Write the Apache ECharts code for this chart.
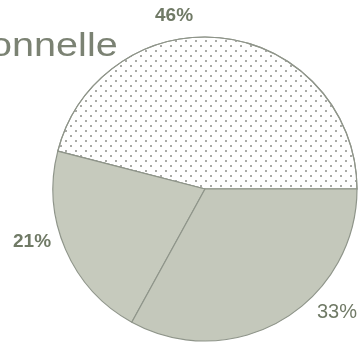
<!DOCTYPE html>
<html lang="fr">
	<head>
		<meta charset="UTF-8">
		<title>Répartition</title>
		<style>
			html, body { margin: 0; padding: 0; background: #fff; }
		</style>
	</head>
	<body>
		<div id="main" style="width: 358px;height:342px;"></div>

		<script type="text/javascript" src="https://cdn.jsdelivr.net/npm/echarts@6/dist/echarts.min.js"></script>
		<script type="text/javascript">
			// données
			var valeurs = [46, 21, 33];
			var etiquettes = ['46%', '21%', '33%'];
			var titre = 'onnelle';

			var couleurs = ['#ffffff', '#c6cabd', '#c4c8bb'];
			// position des étiquettes (x, y en pixels)
			var posEtiquettes = [[155, 6], [13, 232], [317, 302]];
			var styleEtiquettes = [
				{fontWeight: 'bold', fontSize: 19},
				{fontWeight: 'bold', fontSize: 19},
				{fontWeight: 'normal', fontSize: 20}
			];

			var myChart = echarts.init(document.getElementById('main'));

			var data = valeurs.map(function (v, i) {
				var item = {
					value: v,
					name: etiquettes[i],
					itemStyle: {color: couleurs[i]},
					label: styleEtiquettes[i]
				};
				if (i === 0) {
					//motif pointillé
					item.itemStyle.decal = {
						symbol: 'rect',
						symbolSize: 1,
						color: '#a9aaa6',
						dashArrayX: [[2, 8], [0, 5, 2, 3]],
						dashArrayY: [2, 3],
						rotation: 0
					};
				}
				return item;
			});

			var option = {
				backgroundColor: '#ffffff',
				animation: false,
				graphic: [{
					type: 'text',
					left: -10,
					top: 30,
					scaleX: 1.2,
					style: {
						text: titre,
						font: '33px "Liberation Sans", Arial, sans-serif',
						fill: '#7b8273'
					}
				}],
				series: [{
					type: 'pie',
					center: [205, 189],
					radius: 152,
					startAngle: 0,
					clockwise: false,
					silent: true,
					avoidLabelOverlap: false,
					itemStyle: {
						borderColor: '#8f958a',
						borderWidth: 1.2
					},
					label: {
						show: true,
						position: 'outside',
						overflow: 'none',
						formatter: '{b}',
						color: '#707a66',
						fontFamily: '"Liberation Sans", Arial, sans-serif'
					},
					labelLine: {show: false},
					labelLayout: function (params) {
						var p = posEtiquettes[params.dataIndex];
						return {x: p[0], y: p[1], align: 'left', verticalAlign: 'top'};
					},
					data: data
				}]
			};

			myChart.setOption(option);
		</script>
	</body>
</html>
